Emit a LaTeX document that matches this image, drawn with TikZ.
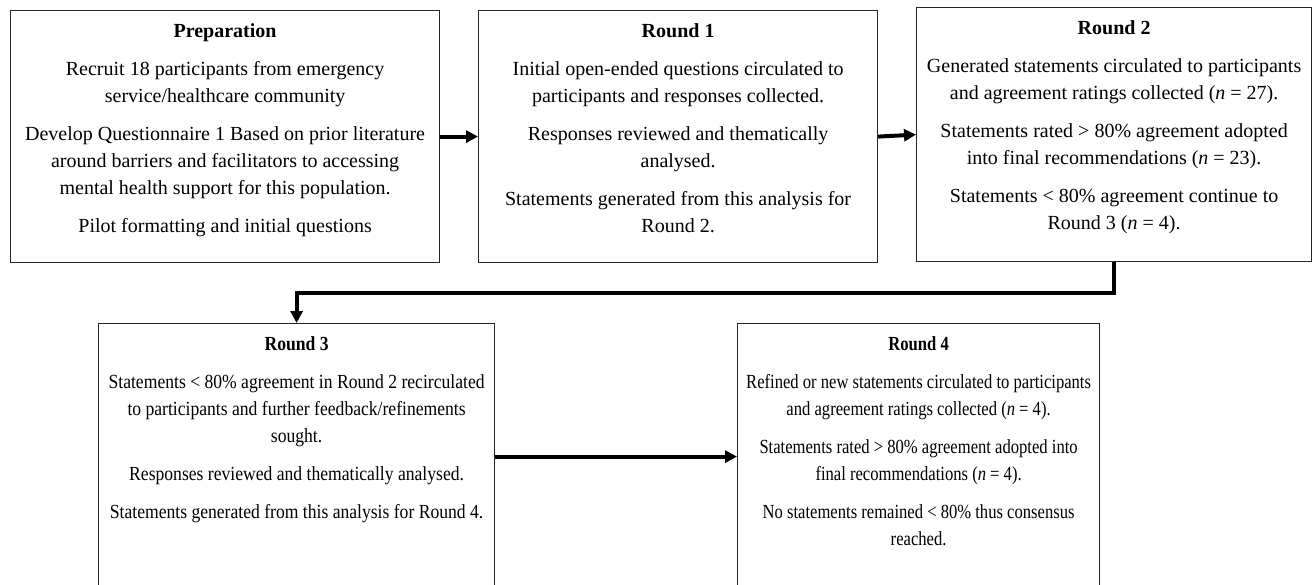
\documentclass[tikz,border=0pt]{standalone}
\usepackage{fontspec}
\setmainfont{Liberation Serif}
\newfontfamily\rthreefont[FakeStretch=0.88]{Liberation Serif}
\newfontfamily\rfourfont[FakeStretch=0.83]{Liberation Serif}
\usetikzlibrary{arrows.meta,positioning}
\tikzset{
  stage/.style={draw=black!85, line width=1.2pt, anchor=north west, inner sep=0pt},
  stagetext/.style={anchor=north, align=center, inner sep=0pt,
    font=\fontsize{20}{27}\selectfont},
  arr/.style={-{Triangle[length=12pt,width=12pt]}, line width=4pt}
}
\newcommand{\pgap}{\\[11pt]}
\begin{document}
\begin{tikzpicture}[x=1pt,y=-1pt]
  \useasboundingbox (0,0) rectangle (1313,584);
  % stage boxes
  \node[stage, minimum width=429pt, minimum height=252pt] (prep) at (10,10) {};
  \node[stage, minimum width=399pt, minimum height=252pt] (r1) at (478,10) {};
  \node[stage, minimum width=395pt, minimum height=254pt] (r2) at (916,7) {};
  \node[stage, minimum width=396pt, minimum height=266pt] (r3) at (98,323) {};
  \node[stage, minimum width=362pt, minimum height=266pt] (r4) at (737,323) {};
  % box texts
  \node[stagetext] (preptxt) at ([yshift=-13pt]prep.north) {\textbf{Preparation}\pgap
    Recruit 18 participants from emergency\\ service/healthcare community\pgap
    Develop Questionnaire 1 Based on prior literature\\
    around barriers and facilitators to accessing\\
    mental health support for this population.\pgap
    Pilot formatting and initial questions};
  \node[stagetext] (r1txt) at ([yshift=-13pt]r1.north) {\textbf{Round 1}\pgap
    Initial open-ended questions circulated to\\
    participants and responses collected.\pgap
    Responses reviewed and thematically\\ analysed.\pgap
    Statements generated from this analysis for\\ Round 2.};
  \node[stagetext] (r2txt) at ([yshift=-13pt]r2.north) {\textbf{Round 2}\pgap
    Generated statements circulated to participants\\
    and agreement ratings collected (\textit{n} = 27).\pgap
    Statements rated > 80\% agreement adopted\\
    into final recommendations (\textit{n} = 23).\pgap
    Statements < 80\% agreement continue to\\
    Round 3 (\textit{n} = 4).};
  \node[stagetext, font=\fontsize{20}{27}\rthreefont] (r3txt) at ([yshift=-13pt]r3.north) {\textbf{Round 3}\pgap
    Statements < 80\% agreement in Round 2 recirculated\\
    to participants and further feedback/refinements\\
    sought.\pgap
    Responses reviewed and thematically analysed.\pgap
    Statements generated from this analysis for Round 4.};
  \node[stagetext, font=\fontsize{20}{27}\rfourfont] (r4txt) at ([yshift=-13pt]r4.north) {\textbf{Round 4}\pgap
    Refined or new statements circulated to participants\\
    and agreement ratings collected (\textit{n} = 4).\pgap
    Statements rated > 80\% agreement adopted into\\
    final recommendations (\textit{n} = 4).\pgap
    No statements remained < 80\% thus consensus\\
    reached.};
  % flow
  \draw[arr] (prep.east) -- (r1.west);
  \draw[arr] (r1.east) -- (r2.west);
  \draw[arr] (r2.south) -- ++(0,31) -| (r3.north);
  \draw[arr] (r3.east) -- (r4.west);
\end{tikzpicture}
\end{document}
